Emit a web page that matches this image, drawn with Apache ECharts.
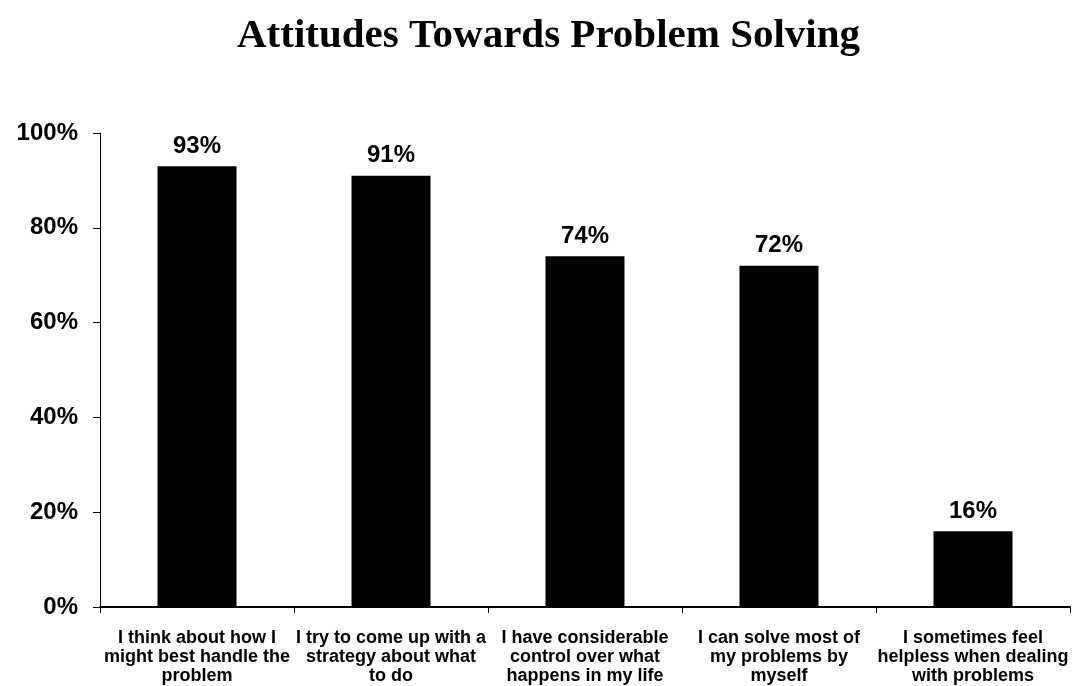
<!DOCTYPE html>
<html>
<head>
<meta charset="utf-8">
<script src="https://cdn.jsdelivr.net/npm/echarts@6/dist/echarts.min.js"></script>
<style>
html,body{margin:0;padding:0;background:#fff;}
#chart{width:1073px;height:686px;}
</style>
</head>
<body>
<div id="chart"></div>
<script>
const categories = [
  "I think about how I\nmight best handle the\nproblem",
  "I try to come up with a\nstrategy about what\nto do",
  "I have considerable\ncontrol over what\nhappens in my life",
  "I can solve most of\nmy problems by\nmyself",
  "I sometimes feel\nhelpless when dealing\nwith problems"
];
const values = [93, 91, 74, 72, 16];
const titleText = "Attitudes Towards Problem Solving";

const chart = echarts.init(document.getElementById('chart'));
chart.setOption({
  backgroundColor: '#ffffff',
  animation: false,
  title: {
    text: titleText,
    left: 232,
    top: 11,
    textStyle: { fontFamily: 'Liberation Serif', fontWeight: 'bold', fontSize: 41, color: '#000' }
  },
  grid: { left: 100, right: 3, top: 133, bottom: 79, containLabel: false },
  xAxis: {
    type: 'category',
    data: categories,
    axisLine: { lineStyle: { color: '#000', width: 2 } },
    axisTick: { show: true, alignWithLabel: false, length: 6, lineStyle: { color: '#000', width: 1 } },
    axisLabel: {
      interval: 0,
      margin: 22,
      fontFamily: 'Liberation Sans',
      fontWeight: 'bold',
      fontSize: 18,
      lineHeight: 19,
      color: '#000'
    }
  },
  yAxis: {
    type: 'value',
    min: 0,
    max: 100,
    interval: 20,
    splitLine: { show: false },
    axisLine: { show: true, lineStyle: { color: '#000', width: 1 } },
    axisTick: { show: true, length: 7, lineStyle: { color: '#000' } },
    axisLabel: {
      formatter: '{value}%',
      margin: 22,
      fontFamily: 'Liberation Sans',
      fontWeight: 'bold',
      fontSize: 24,
      color: '#000'
    }
  },
  series: [{
    type: 'bar',
    data: values,
    barWidth: 79,
    itemStyle: { color: '#000' },
    label: {
      show: true,
      position: 'top',
      distance: 8,
      formatter: '{c}%',
      fontFamily: 'Liberation Sans',
      fontWeight: 'bold',
      fontSize: 24,
      color: '#000'
    }
  }]
});
</script>
</body>
</html>
